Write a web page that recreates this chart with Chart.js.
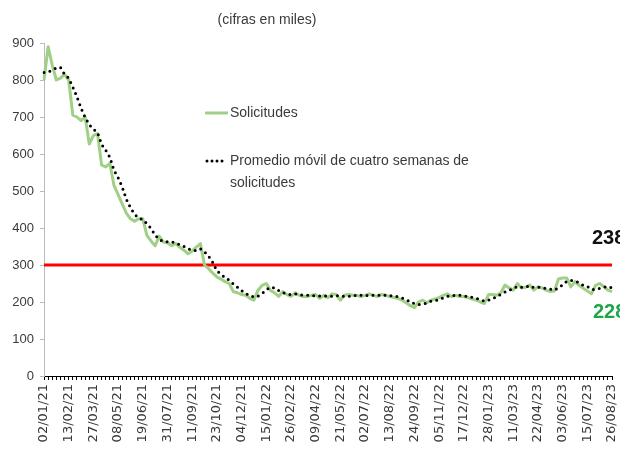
<!DOCTYPE html>
<html><head><meta charset="utf-8">
<script src="https://cdn.jsdelivr.net/npm/chart.js@4/dist/chart.umd.min.js"></script>
<style>html,body{margin:0;padding:0;background:#fff}#wrap{width:620px;height:454px}</style>
</head><body><div id="wrap"><canvas id="c" width="620" height="454"></canvas></div>
<script>
// Weekly categories, 02/01/21 .. 26/08/23 (139 weeks)
const inicio = [2021, 0, 2];
const numSemanas = 139;
const semanas = [];
for (let i = 0; i < numSemanas; i++) {
  const d = new Date(Date.UTC(inicio[0], inicio[1], inicio[2] + i * 7));
  const dd = String(d.getUTCDate()).padStart(2, '0');
  const mm = String(d.getUTCMonth() + 1).padStart(2, '0');
  const yy = String(d.getUTCFullYear()).slice(2);
  semanas.push(dd + '/' + mm + '/' + yy);
}

const etiquetas = ['02/01/21','13/02/21','27/03/21','08/05/21','19/06/21','31/07/21','11/09/21','23/10/21','04/12/21','15/01/22','26/02/22','09/04/22','21/05/22','02/07/22','13/08/22','24/09/22','05/11/22','17/12/22','28/01/23','11/03/23','22/04/23','03/06/23','15/07/23','26/08/23'];

const solicitudes = [
  800,890,840,800,805,815,800,705,700,690,
  700,627,650,655,570,565,575,515,490,465,
  440,425,418,425,425,380,365,352,378,362,
  360,352,358,348,340,330,338,348,358,300,
  290,278,268,262,255,250,228,225,220,218,
  210,205,232,245,250,232,225,215,228,220,
  215,225,218,215,215,218,220,210,218,212,
  222,220,205,218,220,218,218,215,218,222,
  218,215,220,218,215,212,210,205,198,190,
  185,200,205,198,205,208,212,218,222,215,
  218,215,215,212,208,205,200,196,220,220,
  218,225,246,238,232,250,238,240,246,232,
  241,238,232,228,230,262,265,265,241,255,
  245,237,230,222,245,250,242,232,228
];

const promedio = [
  820,822,826,833,834,815,805,781,755,724,
  699,679,667,658,626,610,591,556,536,511,
  478,455,437,427,423,412,399,381,369,364,
  363,363,358,355,350,344,339,339,344,336,
  324,307,284,275,266,259,249,240,231,223,
  218,213,216,223,233,240,238,231,225,222,
  220,222,220,218,218,217,217,216,217,215,
  216,218,215,216,216,215,219,218,217,218,
  218,218,219,218,217,216,214,211,206,201,
  195,193,195,197,202,204,206,211,215,217,
  218,218,216,215,213,210,206,202,205,209,
  214,221,227,232,235,242,240,240,244,239,
  240,239,236,235,232,238,246,256,258,257,
  252,245,242,234,234,237,240,242,238
];

const yTicks = [0,100,200,300,400,500,600,700,800,900];
const UMBRAL = 300;
const ultimoPromedio = '238';
const ultimaSolicitud = '228';

const TXT = '#3a3a3a';
const FONT = '"Liberation Sans", Arial, sans-serif';

const extras = {
  id: 'extras',
  beforeDatasetsDraw(chart) {
    const { ctx, chartArea: a, scales: { y } } = chart;
    const py = y.getPixelForValue(UMBRAL);
    ctx.save();
    ctx.strokeStyle = '#ff0000';
    ctx.lineWidth = 3;
    ctx.beginPath();
    ctx.moveTo(a.left, py);
    ctx.lineTo(a.right, py);
    ctx.stroke();
    ctx.restore();
  },
  afterDraw(chart) {
    const { ctx } = chart;
    ctx.save();
    ctx.fillStyle = TXT;
    ctx.font = '14px ' + FONT;
    ctx.textAlign = 'center';
    ctx.textBaseline = 'middle';
    ctx.fillText('(cifras en miles)', 267, 20);
    ctx.textAlign = 'left';
    ctx.font = '14px ' + FONT;
    ctx.strokeStyle = '#a0cf86';
    ctx.lineWidth = 3;
    ctx.beginPath(); ctx.moveTo(205, 113); ctx.lineTo(228, 113); ctx.stroke();
    ctx.fillText('Solicitudes', 230, 113);
    ctx.strokeStyle = '#000';
    ctx.lineCap = 'round';
    ctx.setLineDash([0, 5]);
    ctx.beginPath(); ctx.moveTo(207, 161); ctx.lineTo(224, 161); ctx.stroke();
    ctx.setLineDash([]);
    ctx.fillText('Promedio móvil de cuatro semanas de', 230, 161);
    ctx.fillText('solicitudes', 230, 183);
    ctx.font = 'bold 20px ' + FONT;
    ctx.fillStyle = '#111';
    ctx.fillText(ultimoPromedio, 592, 238);
    ctx.fillStyle = '#1fa64a';
    ctx.fillText(ultimaSolicitud, 593, 312);
    ctx.restore();
  }
};

new Chart(document.getElementById('c'), {
  type: 'line',
  data: {
    labels: semanas,
    datasets: [
      { label: 'Solicitudes', data: solicitudes, borderColor: '#a0cf86', borderWidth: 3,
        pointRadius: 0, tension: 0, borderJoinStyle: 'round', order: 1 },
      { label: 'Promedio móvil de cuatro semanas de solicitudes', data: promedio, borderColor: '#000',
        borderWidth: 3, borderDash: [0, 6], borderCapStyle: 'round', pointRadius: 0, tension: 0, order: 0 }
    ]
  },
  options: {
    responsive: false,
    animation: false,
    layout: { padding: { top: 43, right: 8, left: 0, bottom: 0 } },
    plugins: { legend: { display: false }, title: { display: false }, tooltip: { enabled: false } },
    scales: {
      x: {
        offset: false,
        grid: { drawOnChartArea: false, drawTicks: true, tickLength: 4, color: '#000', offset: false },
        border: { color: '#000', width: 1 },
        ticks: {
          autoSkip: false, maxRotation: 90, minRotation: 90, padding: 4, color: TXT,
          font: { family: '"DejaVu Sans", sans-serif', size: 13 },
          callback: (v, i) => etiquetas.includes(semanas[i]) ? semanas[i] : ''
        },
        afterFit: s => { s.height = 78; s.paddingLeft = 0; s.paddingRight = 0; }
      },
      y: {
        min: 0, max: 900,
        afterBuildTicks: s => { s.ticks = yTicks.map(v => ({ value: v })); },
        grid: { drawOnChartArea: false, drawTicks: true, tickLength: 4, color: '#bbb' },
        border: { color: '#bbb', width: 1 },
        ticks: { padding: 6, color: TXT, font: { family: '"Liberation Sans Narrow", "Liberation Sans", sans-serif', size: 13 } },
        afterFit: s => { s.width = 44; s.paddingTop = 0; s.paddingBottom = 0; }
      }
    }
  },
  plugins: [extras]
});
</script>
</body></html>
